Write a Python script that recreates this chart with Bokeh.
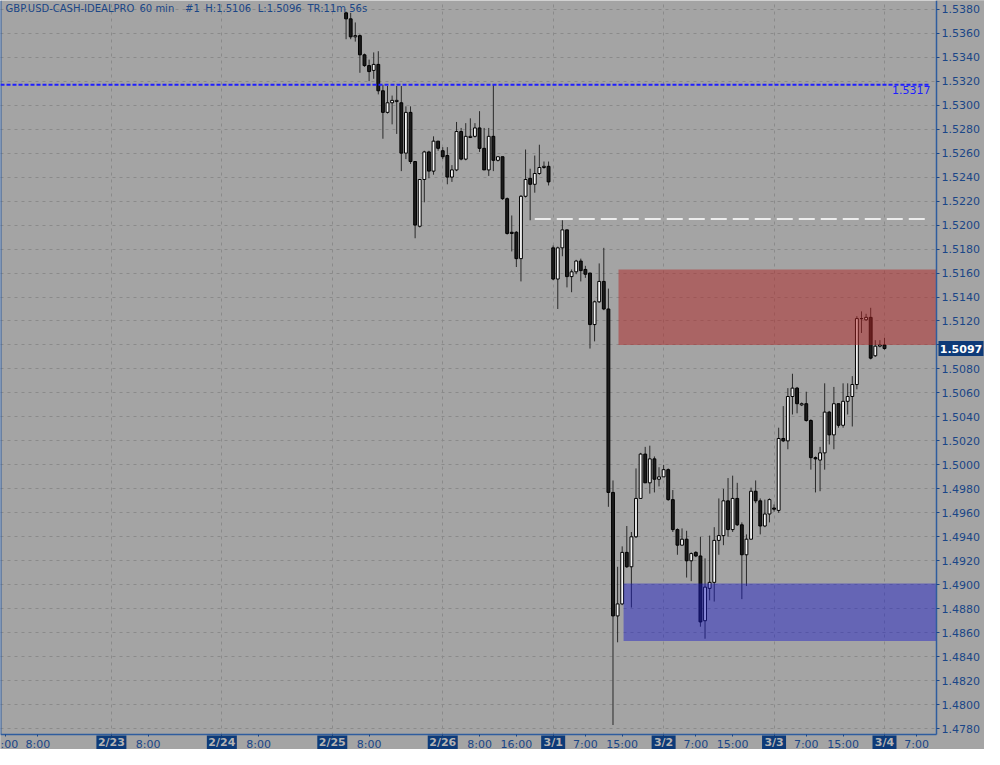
from bokeh.plotting import figure
from bokeh.models import Range1d, FixedTicker, Label, NumeralTickFormatter, ColumnDataSource, BoxAnnotation
from bokeh.embed import file_html
from bokeh.resources import INLINE

# ---------------- data (hourly bars, hour 0 = 2/25 0:00) ----------------
HOURS = list(range(3, 121))
OPEN = [1.5377, 1.5372, 1.5357, 1.5358, 1.5342, 1.5333, 1.5329, 1.5334, 1.5312, 1.5294,
        1.5302, 1.5303, 1.5302, 1.5260, 1.5294, 1.5253, 1.5199, 1.5238, 1.5261, 1.5245,
        1.5270, 1.5262, 1.5258, 1.5240, 1.5246, 1.5278, 1.5255, 1.5273, 1.5274, 1.5281,
        1.5264, 1.5246, 1.5274, 1.5254, 1.5257, 1.5222, 1.5194, 1.5194, 1.5172, 1.5224,
        1.5239, 1.5234, 1.5243, 1.5248, 1.5249, 1.5181, 1.5155, 1.5181, 1.5196, 1.5157,
        1.5161, 1.5170, 1.5163, 1.5160, 1.5117, 1.5136, 1.5153, 1.5130, 1.4977, 1.4874,
        1.4884, 1.4927, 1.4915, 1.4940, 1.4972, 1.5009, 1.4985, 1.5005, 1.4988, 1.4990,
        1.4996, 1.4971, 1.4946, 1.4933, 1.4938, 1.4920, 1.4927, 1.4924, 1.4870, 1.4897,
        1.4902, 1.4937, 1.4941, 1.4970, 1.4946, 1.4972, 1.4950, 1.4925, 1.4938, 1.4978,
        1.4970, 1.4949, 1.4959, 1.4964, 1.4962, 1.5022, 1.5020, 1.5057, 1.5064, 1.5050,
        1.5051, 1.5037, 1.5006, 1.5004, 1.5010, 1.5044, 1.5025, 1.5051, 1.5033, 1.5053,
        1.5057, 1.5067, 1.5122, 1.5121, 1.5123, 1.5091, 1.5099, 1.5100]
HIGH = [1.5378, 1.5377, 1.5369, 1.5359, 1.5343, 1.5338, 1.5344, 1.5345, 1.5317, 1.5316,
        1.5308, 1.5316, 1.5316, 1.5299, 1.5299, 1.5253, 1.5238, 1.5262, 1.5262, 1.5274,
        1.5270, 1.5265, 1.5265, 1.5250, 1.5286, 1.5281, 1.5285, 1.5289, 1.5285, 1.5295,
        1.5281, 1.5281, 1.5317, 1.5257, 1.5257, 1.5223, 1.5208, 1.5195, 1.5225, 1.5263,
        1.5247, 1.5258, 1.5267, 1.5253, 1.5253, 1.5183, 1.5182, 1.5204, 1.5196, 1.5163,
        1.5171, 1.5172, 1.5166, 1.5160, 1.5137, 1.5168, 1.5181, 1.5147, 1.4987, 1.4915,
        1.4932, 1.4949, 1.4944, 1.4997, 1.5010, 1.5015, 1.5016, 1.5007, 1.4998, 1.5000,
        1.4997, 1.4979, 1.4947, 1.4947, 1.4945, 1.4927, 1.4928, 1.4940, 1.4922, 1.4941,
        1.4948, 1.4972, 1.4980, 1.4989, 1.4991, 1.4985, 1.4952, 1.4942, 1.4981, 1.4987,
        1.4972, 1.4971, 1.4972, 1.4967, 1.5031, 1.5049, 1.5064, 1.5076, 1.5065, 1.5052,
        1.5061, 1.5038, 1.5007, 1.5015, 1.5068, 1.5045, 1.5065, 1.5051, 1.5068, 1.5068,
        1.5074, 1.5124, 1.5128, 1.5126, 1.5131, 1.5104, 1.5104, 1.5106]
LOW = [1.5355, 1.5355, 1.5353, 1.5327, 1.5332, 1.5320, 1.5322, 1.5309, 1.5272, 1.5293,
       1.5284, 1.5276, 1.5245, 1.5255, 1.5251, 1.5189, 1.5198, 1.5219, 1.5239, 1.5242,
       1.5262, 1.5255, 1.5234, 1.5236, 1.5245, 1.5254, 1.5254, 1.5273, 1.5273, 1.5261,
       1.5246, 1.5241, 1.5245, 1.5253, 1.5221, 1.5192, 1.5178, 1.5165, 1.5153, 1.5223,
       1.5204, 1.5227, 1.5242, 1.5247, 1.5233, 1.5154, 1.5130, 1.5174, 1.5148, 1.5144,
       1.5159, 1.5153, 1.5156, 1.5097, 1.5103, 1.5135, 1.5129, 1.4965, 1.4783, 1.4852,
       1.4883, 1.4914, 1.4881, 1.4939, 1.4972, 1.4985, 1.4976, 1.4977, 1.4982, 1.4990,
       1.4970, 1.4944, 1.4925, 1.4933, 1.4906, 1.4903, 1.4923, 1.4865, 1.4855, 1.4887,
       1.4886, 1.4925, 1.4933, 1.4940, 1.4944, 1.4949, 1.4888, 1.4899, 1.4938, 1.4968,
       1.4942, 1.4948, 1.4952, 1.4961, 1.4960, 1.5019, 1.5013, 1.5042, 1.5043, 1.5049,
       1.5036, 1.4996, 1.4977, 1.4978, 1.4996, 1.5017, 1.5013, 1.5031, 1.5031, 1.5042,
       1.5032, 1.5063, 1.5110, 1.5120, 1.5088, 1.5090, 1.5098, 1.5096]
CLOSE = [1.5372, 1.5357, 1.5358, 1.5342, 1.5333, 1.5328, 1.5334, 1.5312, 1.5294, 1.5302,
         1.5304, 1.5304, 1.5260, 1.5294, 1.5253, 1.5200, 1.5238, 1.5261, 1.5245, 1.5270,
         1.5264, 1.5257, 1.5240, 1.5246, 1.5278, 1.5255, 1.5274, 1.5274, 1.5281, 1.5264,
         1.5246, 1.5274, 1.5254, 1.5257, 1.5222, 1.5193, 1.5193, 1.5172, 1.5224, 1.5238,
         1.5234, 1.5243, 1.5248, 1.5249, 1.5236, 1.5155, 1.5181, 1.5196, 1.5157, 1.5161,
         1.5170, 1.5162, 1.5159, 1.5117, 1.5136, 1.5153, 1.5130, 1.4977, 1.4874, 1.4884,
         1.4927, 1.4915, 1.4940, 1.4972, 1.5009, 1.4985, 1.5005, 1.4988, 1.4990, 1.4996,
         1.4971, 1.4946, 1.4933, 1.4938, 1.4920, 1.4926, 1.4924, 1.4869, 1.4898, 1.4902,
         1.4937, 1.4941, 1.4970, 1.4946, 1.4972, 1.4950, 1.4925, 1.4938, 1.4978, 1.4970,
         1.4949, 1.4959, 1.4971, 1.4963, 1.5022, 1.5020, 1.5057, 1.5064, 1.5051, 1.5051,
         1.5037, 1.5006, 1.5005, 1.5010, 1.5044, 1.5025, 1.5051, 1.5033, 1.5053, 1.5057,
         1.5067, 1.5122, 1.5122, 1.5123, 1.5089, 1.5099, 1.5100, 1.5097]

Y_TICKS = [1.4780, 1.4800, 1.4820, 1.4840, 1.4860, 1.4880, 1.4900, 1.4920, 1.4940, 1.4960,
           1.4980, 1.5000, 1.5020, 1.5040, 1.5060, 1.5080, 1.5100, 1.5120, 1.5140, 1.5160,
           1.5180, 1.5200, 1.5220, 1.5240, 1.5260, 1.5280, 1.5300, 1.5320, 1.5340, 1.5360,
           1.5380]
TIME_TICKS = [-71, -64, -40, -16, 8, 32, 40, 55, 63, 79, 87, 103, 111, 127]
TIME_LABELS = [":00", "8:00", "8:00", "8:00", "8:00", "8:00", "16:00", "7:00", "15:00",
               "7:00", "15:00", "7:00", "15:00", "7:00"]
DAY_TICKS = [-48, -24, 0, 24, 48, 72, 96, 120]
DAY_LABELS = ["2/23", "2/24", "2/25", "2/26", "3/1", "3/2", "3/3", "3/4"]

HEADER_TEXTS = ["GBP.USD-CASH-IDEALPRO", "60 min", "#1", "H:1.5106", "L:1.5096", "TR:11m 56s"]
HEADER_POS = [-71.0, -41.9, -32.0, -27.6, -16.2, -5.4]

RESIST_LOW, RESIST_HIGH, RESIST_START = 1.5100, 1.5163, 62.2
SUPPORT_LOW, SUPPORT_HIGH, SUPPORT_START = 1.4853, 1.4901, 63.3
BLUE_LEVEL = 1.5317
WHITE_LEVEL, WHITE_START = 1.5205, 44.0
LINE_END = 130.0
LAST_PRICE = 1.5097

# ---------------- style ----------------
BG = "#a4a4a4"
GRID = "#8a8a8a"
TXT = "#1a4687"
AXIS_BLUE = "#2f5d9e"
NAVY = "#0d3a78"
WICK = "#2a2a2a"
DOWN = "#1c1c1c"
UP = "#f4f4f4"
FONT = "DejaVu Sans"

# price-chart area (inside the canvas) and its data bounds
X0, X1 = -72.1, 131.3
Y0, Y1 = 1.47751, 1.53873
W, H = 984, 749
FW, FH = 936, 734
PX_X = (X1 - X0) / FW
PX_Y = (Y1 - Y0) / FH
XE = X0 + W * PX_X          # right edge of canvas (covers the price-axis strip)
YB = Y1 - H * PX_Y          # bottom edge of canvas (covers the time-axis strip)

p = figure(width=W, height=H, x_range=Range1d(X0, XE), y_range=Range1d(YB, Y1),
           y_axis_location="right", output_backend="svg", toolbar_location=None,
           min_border=0, background_fill_color=BG, border_fill_color=BG,
           outline_line_color=None)

# grids
p.xgrid.ticker = FixedTicker(ticks=DAY_TICKS)
p.ygrid.ticker = FixedTicker(ticks=Y_TICKS)
for g in (p.xgrid, p.ygrid):
    g.grid_line_color = GRID
    g.grid_line_dash = "3 4"
    g.grid_line_width = 1

# axis strips background (hide grid lines there)
p.quad(left=[X1], right=[XE + 1], bottom=[YB - 1], top=[Y1 + 1], fill_color=BG, line_color=None)
p.quad(left=[X0 - 1], right=[XE + 1], bottom=[YB - 1], top=[Y0], fill_color=BG, line_color=None)

# axes, fixed at the edges of the price-chart area
p.yaxis.fixed_location = X1
p.yaxis.bounds = (Y0, Y1)
p.yaxis.ticker = FixedTicker(ticks=Y_TICKS)
p.yaxis.formatter = NumeralTickFormatter(format="0.0000")
p.yaxis.major_label_text_font = FONT
p.yaxis.major_label_text_font_size = "11px"
p.yaxis.major_label_text_color = TXT
p.yaxis.axis_line_color = AXIS_BLUE
p.yaxis.axis_line_width = 1.5
p.yaxis.major_tick_line_color = TXT
p.yaxis.major_tick_out = 3
p.yaxis.major_tick_in = 0
p.yaxis.minor_tick_out = 0
p.yaxis.minor_tick_in = 0
p.yaxis.major_label_standoff = 2

p.xaxis.fixed_location = Y0
p.xaxis.bounds = (X0, X1)
p.xaxis.ticker = FixedTicker(ticks=TIME_TICKS + DAY_TICKS)
overrides = {t: s for t, s in zip(TIME_TICKS, TIME_LABELS)}
overrides.update({d: "" for d in DAY_TICKS})
p.xaxis.major_label_overrides = overrides
p.xaxis.major_label_text_font = FONT
p.xaxis.major_label_text_font_size = "11px"
p.xaxis.major_label_text_color = TXT
p.xaxis.axis_line_color = AXIS_BLUE
p.xaxis.axis_line_width = 1.5
p.xaxis.major_tick_line_color = TXT
p.xaxis.major_tick_out = 2
p.xaxis.major_tick_in = 0
p.xaxis.minor_tick_out = 0
p.xaxis.minor_tick_in = 0
p.xaxis.major_label_standoff = 1

# left border line
p.segment(x0=[X0], y0=[Y0], x1=[X0], y1=[Y1], line_color=AXIS_BLUE, line_width=2)

# candles
up = [c >= o for o, c in zip(OPEN, CLOSE)]
src = ColumnDataSource(dict(
    x=HOURS, high=HIGH, low=LOW,
    top=[max(o, c) for o, c in zip(OPEN, CLOSE)],
    bottom=[min(o, c) for o, c in zip(OPEN, CLOSE)],
    fill=[UP if u else DOWN for u in up],
))
p.segment(x0="x", y0="high", x1="x", y1="low", source=src, line_color=WICK, line_width=1)
p.vbar(x="x", width=0.62, top="top", bottom="bottom", source=src,
       fill_color="fill", line_color="#000000", line_width=1)

# zones
p.quad(left=[RESIST_START], right=[X1], bottom=[RESIST_LOW], top=[RESIST_HIGH],
       fill_color="#af2323", fill_alpha=0.5, line_color=None)
p.quad(left=[SUPPORT_START], right=[X1], bottom=[SUPPORT_LOW], top=[SUPPORT_HIGH],
       fill_color="#1a1ac8", fill_alpha=0.46, line_color=None)

# level lines
p.segment(x0=[X0], y0=[BLUE_LEVEL], x1=[LINE_END], y1=[BLUE_LEVEL],
          line_color="#1e1eff", line_width=2, line_dash="4 2")
p.segment(x0=[WHITE_START], y0=[WHITE_LEVEL], x1=[LINE_END], y1=[WHITE_LEVEL],
          line_color="#ececec", line_width=2, line_dash="16 6")
p.add_layout(Label(x=LINE_END, y=BLUE_LEVEL - PX_Y, text="1.5317", text_align="right",
                   text_baseline="top", text_color="#1e1eff", text_font=FONT,
                   text_font_size="11px"))

# header
for t, xp in zip(HEADER_TEXTS, HEADER_POS):
    p.add_layout(Label(x=xp, y=Y1 - 2 * PX_Y, text=t, text_align="left", text_baseline="top",
                       text_color=TXT, text_font=FONT, text_font_size="10px"))

# day labels (boxed) on the time axis
for d, s in zip(DAY_TICKS, DAY_LABELS):
    half = (15 if len(s) > 3 else 12) * PX_X
    p.add_layout(BoxAnnotation(left=d - half, right=d + half, top=Y0 - 1 * PX_Y, bottom=YB,
                               fill_color=NAVY, fill_alpha=1.0, line_color=None))
    p.add_layout(Label(x=d, y=Y0 - 8 * PX_Y, text=s, text_align="center",
                       text_baseline="middle", text_color="#b4b4b4", text_font=FONT,
                       text_font_size="11px", text_font_style="bold"))

# last price box on the price axis
p.add_layout(BoxAnnotation(left=X1 + 2 * PX_X, right=X1 + 47 * PX_X,
                           bottom=LAST_PRICE - 7.5 * PX_Y, top=LAST_PRICE + 7.5 * PX_Y,
                           fill_color=NAVY, fill_alpha=1.0, line_color=None))
p.add_layout(Label(x=X1 + 24.5 * PX_X, y=LAST_PRICE, text="1.5097", text_align="center",
                   text_baseline="middle", text_color="#ffffff", text_font=FONT,
                   text_font_size="11px", text_font_style="bold"))

open("out.html", "w").write(file_html(p, INLINE))
